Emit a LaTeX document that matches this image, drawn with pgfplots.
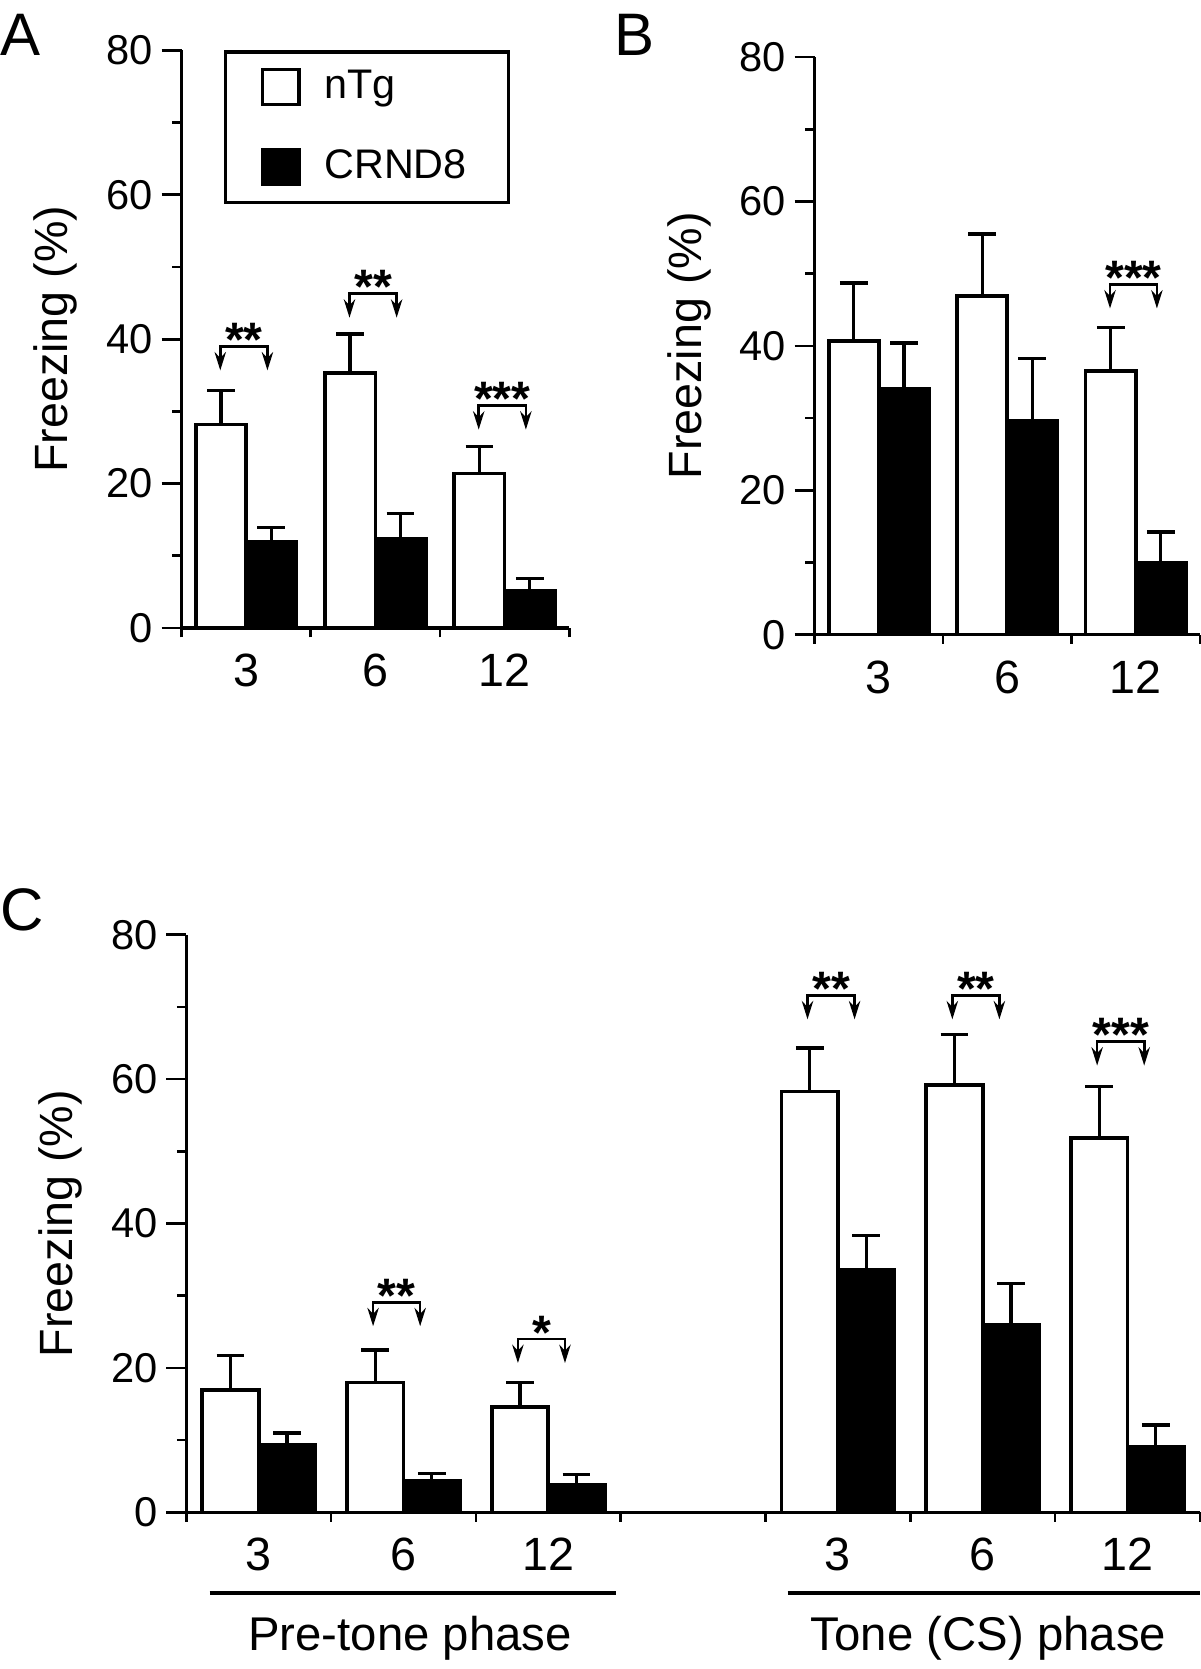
\documentclass[border=0pt]{standalone}
\usepackage{pgfplots}
\pgfplotsset{compat=1.18}
\usepackage{fontspec}
\setmainfont{Liberation Sans}
\usetikzlibrary{arrows.meta}

\pgfplotsset{
  panel/.style={
    scale only axis,
    height=173.3pt,
    ymin=0, ymax=80,
    axis x line*=bottom, axis y line*=left,
    axis line style={-, line width=1pt, black},
    tick align=outside,
    ytick={0,20,40,60,80}, minor ytick={10,30,50,70},
    major tick length=6pt, minor tick length=2.8pt,
    every tick/.style={black, line width=0.8pt},
    major x tick style={draw=none},
    /pgf/number format/assume math mode=true,
    yticklabel style={font=\fontsize{12.5}{14}\selectfont, xshift=1pt},
    xticklabel style={font=\fontsize{14}{16}\selectfont, yshift=1.8pt},
    ylabel={Freezing (\%)},
    ylabel style={font=\fontsize{14}{16}\selectfont, anchor=center},
    clip=false,
  },
  sqlegend/.style={legend image code/.code={\draw[##1] (0pt,-5.25pt) rectangle (11pt,5.25pt); \path (16pt,0pt);}},
  ntg/.style={ybar, bar width=0.39, bar shift=0pt, draw=black, fill=white, line width=1.1pt, sqlegend,
    error bars/.cd, y dir=plus, y explicit, error bar style={line width=1pt, black},
    error mark options={rotate=90, line width=1pt, mark size=4.15pt, black}},
  crn/.style={ybar, bar width=0.39, bar shift=0pt, draw=black, fill=black, line width=1.1pt, sqlegend,
    error bars/.cd, y dir=plus, y explicit, error bar style={line width=1pt, black},
    error mark options={rotate=90, line width=1pt, mark size=4.15pt, black}},
}

% x1, x2, y (bracket level), xc (centre), stars
\newcommand{\sig}[5]{%
  \draw[line width=0.8pt, {Stealth[length=5.5pt,width=3.4pt]}-{Stealth[length=5.5pt,width=3.4pt]}]
    ([yshift=-7.2pt]axis cs:#1,#3) -- (axis cs:#1,#3) -- (axis cs:#2,#3) -- ([yshift=-7.2pt]axis cs:#2,#3);
  \node[anchor=base, yshift=-3pt, inner sep=0pt, font=\bfseries\fontsize{14.5}{14.5}\selectfont] at (axis cs:#4,#3) {#5};
}

\begin{document}
\begin{tikzpicture}
\useasboundingbox (0,0) rectangle (360pt,500.7pt);

% ---------------- Panel A ----------------
\begin{axis}[panel,
  at={(54.45pt,312.3pt)}, anchor=south west,
  width=116.3pt,
  xmin=0, xmax=3,
  xtick={0.5,1.5,2.5}, xticklabels={3,6,12},
  minor xtick={0,1,2,3},
  ylabel style={at={(axis description cs:-0.325,0.5)}},
  legend style={at={(axis cs:0.329,80)}, anchor=north west, draw=black, line width=1pt,
    inner xsep=10.5pt, inner ysep=3.5pt, row sep=9.9pt,
    font=\fontsize{12.4}{14}\selectfont, cells={anchor=west}},
  legend cell align=left,
]
\addplot[ntg] coordinates {(0.305,28.2) +- (0,4.7) (1.305,35.3) +- (0,5.4) (2.305,21.4) +- (0,3.7)};
\addlegendentry{nTg}
\addplot[crn] coordinates {(0.695,11.9) +- (0,2.0) (1.695,12.3) +- (0,3.6) (2.695,5.1) +- (0,1.8)};
\addlegendentry{CRND8}
\sig{0.30}{0.665}{39.0}{0.4825}{**}
\sig{1.30}{1.665}{46.3}{1.4825}{**}
\sig{2.30}{2.665}{30.8}{2.4825}{***}
\end{axis}

% ---------------- Panel B ----------------
\begin{axis}[panel,
  at={(244.38pt,310.3pt)}, anchor=south west,
  width=115.6pt,
  xmin=0, xmax=3,
  xtick={0.5,1.5,2.5}, xticklabels={3,6,12},
  minor xtick={0,1,2,3},
  ylabel style={at={(axis description cs:-0.325,0.5)}},
]
\addplot[ntg] coordinates {(0.305,40.7) +- (0,8.0) (1.305,46.9) +- (0,8.6) (2.305,36.5) +- (0,6.0)};
\addplot[crn] coordinates {(0.695,34.0) +- (0,6.4) (1.695,29.6) +- (0,8.6) (2.695,10.0) +- (0,4.2)};
\sig{2.30}{2.665}{48.5}{2.4825}{***}
\end{axis}

% ---------------- Panel C ----------------
\begin{axis}[panel,
  at={(55.89pt,47.0pt)}, anchor=south west,
  width=304.1pt,
  xmin=0, xmax=7,
  xtick={0.5,1.5,2.5,4.5,5.5,6.5}, xticklabels={3,6,12,3,6,12},
  minor xtick={0,1,2,3,4,5,6,7},
  ylabel style={at={(axis description cs:-0.124,0.5)}},
]
\addplot[ntg] coordinates {(0.305,16.9) +- (0,4.8) (1.305,18.0) +- (0,4.5) (2.305,14.6) +- (0,3.4)
                           (4.305,58.3) +- (0,6.0) (5.305,59.2) +- (0,7.0) (6.305,51.8) +- (0,7.2)};
\addplot[crn] coordinates {(0.695,9.3) +- (0,1.7) (1.695,4.3) +- (0,1.1) (2.695,3.8) +- (0,1.4)
                           (4.695,33.6) +- (0,4.7) (5.695,26.0) +- (0,5.7) (6.695,9.1) +- (0,3.0)};
\sig{1.29}{1.615}{29.1}{1.4525}{**}
\sig{2.29}{2.615}{24.0}{2.4525}{*}
\sig{4.29}{4.615}{71.6}{4.4525}{**}
\sig{5.29}{5.615}{71.6}{5.4525}{**}
\sig{6.29}{6.615}{65.2}{6.4525}{***}
\draw[line width=1pt] ([yshift=-24.2pt]axis cs:0.161,0) -- ([yshift=-24.2pt]axis cs:2.968,0);
\draw[line width=1pt] ([yshift=-24.2pt]axis cs:4.152,0) -- ([yshift=-24.2pt]axis cs:7,0);
\node[anchor=base, inner sep=0pt, font=\fontsize{14.2}{16}\selectfont] at ([yshift=-41.5pt]axis cs:1.545,0) {Pre-tone phase};
\node[anchor=base, inner sep=0pt, font=\fontsize{14.2}{16}\selectfont] at ([yshift=-41.5pt]axis cs:5.54,0) {Tone (CS) phase};
\end{axis}

% panel letters
\node[anchor=base west, inner sep=0pt, font=\fontsize{18}{20}\selectfont] at (0pt,483.9pt) {A};
\node[anchor=base west, inner sep=0pt, font=\fontsize{18}{20}\selectfont] at (184.05pt,483.9pt) {B};
\node[anchor=base west, inner sep=0pt, font=\fontsize{18}{20}\selectfont] at (0pt,221.4pt) {C};
\end{tikzpicture}
\end{document}
